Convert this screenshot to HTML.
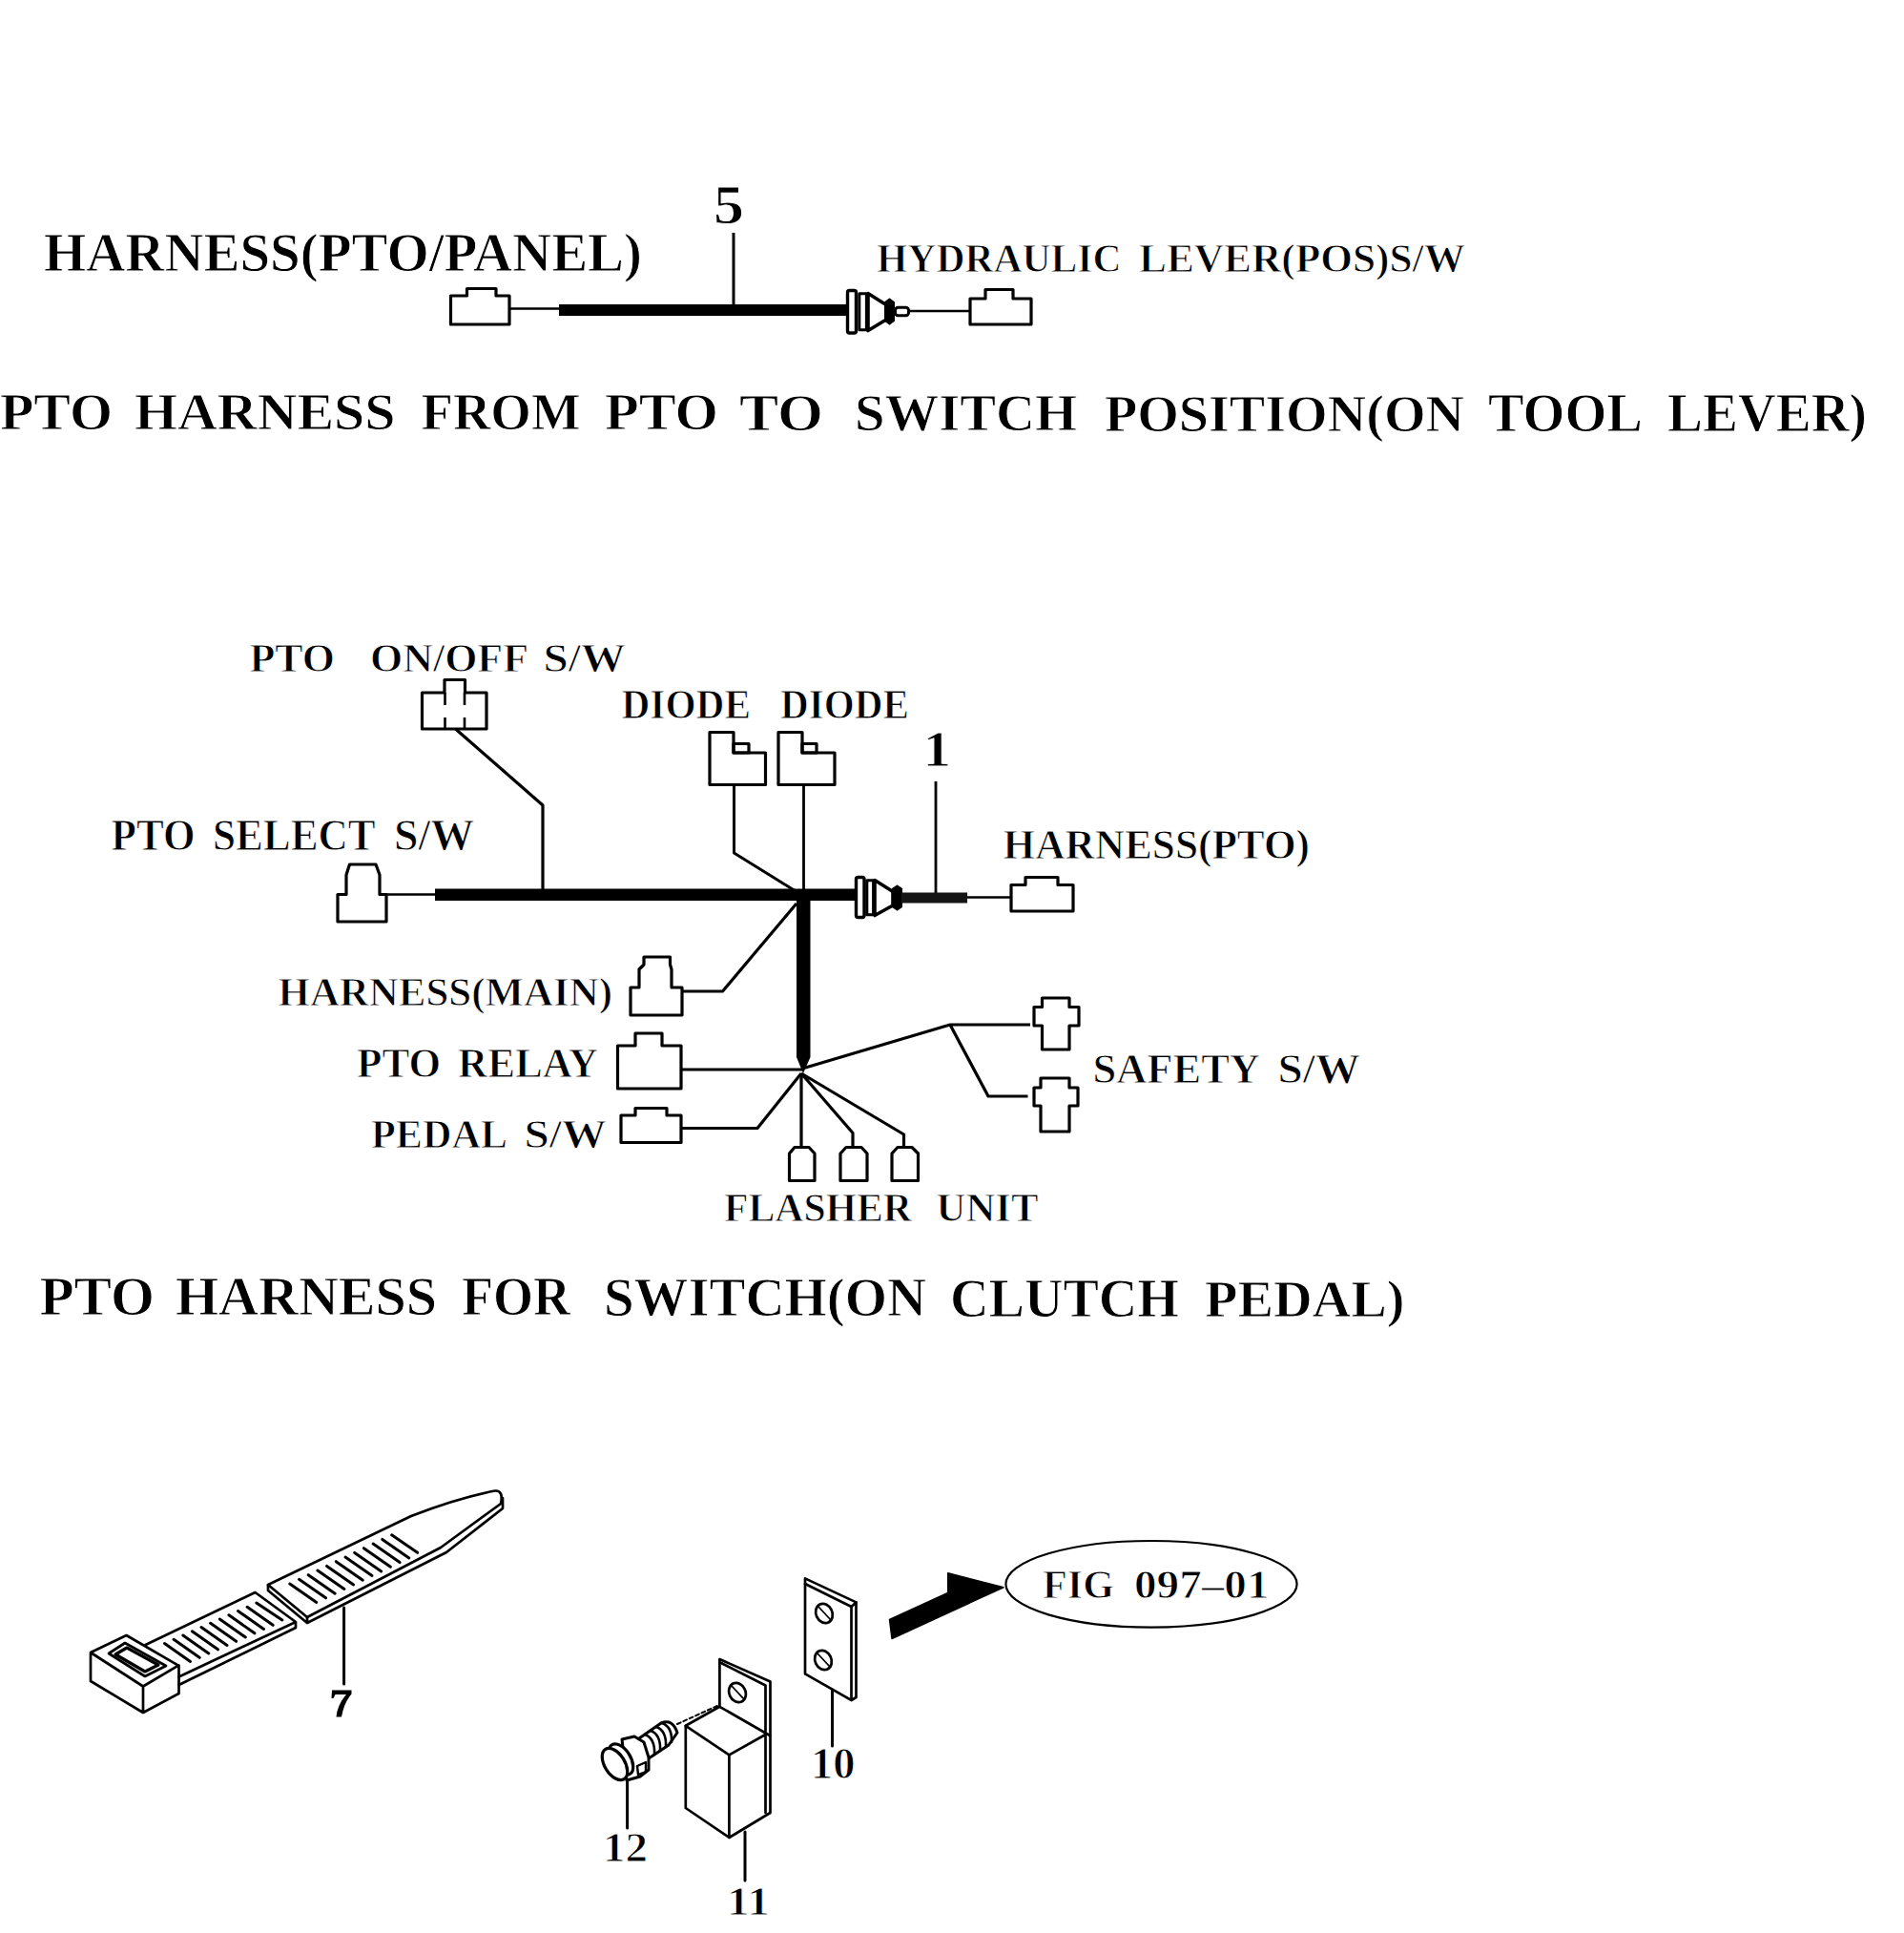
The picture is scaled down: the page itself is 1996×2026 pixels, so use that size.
<!DOCTYPE html>
<html><head><meta charset="utf-8"><title>PTO Harness</title>
<style>html,body{margin:0;padding:0;background:#fff;overflow:hidden}svg{display:block}</style></head>
<body><svg width="1996" height="2026" viewBox="0 0 1996 2026">
<rect width="1996" height="2026" fill="#fff"/>
<g fill="none" stroke="#000" stroke-width="3.2" stroke-linejoin="round" stroke-linecap="butt">
<!-- ===== Section 1 ===== -->
<path d="M472.5,310 H489.5 V302.5 H520 V310 H534 V340 H472.5 Z"/>
<path d="M534,323.5 H586" stroke-width="2.6"/>
<rect x="586" y="319" width="302" height="12" fill="#000" stroke="none"/>
<path d="M769,244 V320" stroke-width="3"/>
<rect x="888.5" y="304.5" width="9" height="44.5" rx="2" fill="#fff" stroke-width="3.4"/>
<rect x="900.8" y="307.8" width="7.6" height="38" fill="#fff" stroke-width="3"/>
<path d="M910,307.5 L929,319.5 V335 L910,346.5 Z" fill="#fff" stroke-width="3.6"/>
<path d="M928,317 L932.5,313.5 L937,317 V336 L932.5,339.5 L928,336 Z" fill="#000" stroke-width="2"/>
<rect x="938.5" y="322.2" width="14" height="8.6" rx="3" fill="#fff" stroke-width="3"/>
<path d="M953,326 H1017" stroke-width="2.6"/>
<path d="M1017,313 H1033 V303.5 H1062 V313 H1081 V340 H1017 Z"/>
<!-- ===== Section 2 ===== -->
<path d="M442.5,726 H466 V712.5 H487.5 V726 H510 V764 H442.5 Z"/>
<path d="M466.5,726 V739 M487,726 V739 M466.5,752 V764 M487,752 V764" stroke-width="2.6"/>
<path d="M477.5,764 L569,844 V932"/>
<path d="M744,767.5 H769 V789 H802.5 V822.5 H744 Z"/>
<rect x="769" y="779.5" width="16" height="9.5"/>
<path d="M816,767.5 H841 V789 H875 V822.5 H816 Z"/>
<rect x="841" y="779.5" width="15" height="9.5"/>
<path d="M769.5,822.5 V894 L834,934" stroke-width="3"/>
<path d="M842.5,822.5 V932" stroke-width="2.8"/>
<path d="M981,819 V936" stroke-width="2.8"/>
<path d="M354,966 V937.5 H363 V917 L366.5,906 H394 L398,917 V937.5 H405 V966 Z"/>
<path d="M405,937.5 H456" stroke-width="2.6"/>
<rect x="456" y="931.5" width="441" height="12.5" fill="#000" stroke="none"/>
<rect x="897.5" y="919.5" width="8.5" height="42" rx="2" fill="#fff" stroke-width="3.4"/>
<rect x="908.8" y="922.8" width="6.8" height="36" fill="#fff" stroke-width="3"/>
<path d="M917,922.5 L936,934.5 V949 L917,959.5 Z" fill="#fff" stroke-width="3.6"/>
<path d="M936,931.5 L940.5,928.5 L945,931.5 V950.5 L940.5,953.5 L936,950.5 Z" fill="#000" stroke-width="2"/>
<rect x="945" y="935.5" width="69" height="11" fill="#151515" stroke="none"/>
<path d="M1014,940.5 H1060" stroke-width="2.6"/>
<path d="M1060,927.5 H1075 V919.5 H1109 V927.5 H1125 V955 H1060 Z"/>
<path d="M835,932 H849.5 V1108 L842,1125 L835,1108 Z" fill="#000" stroke="none"/>
<path d="M661,1064 V1035 H670 V1016 L675,1011 V1003 H702.5 V1011 L704,1016 V1035 H715 V1064 Z"/>
<path d="M715,1039 H757.5 L835,947"/>
<path d="M647.5,1096 H666 V1083 H694 V1096 H714 V1141 H647.5 Z"/>
<path d="M714,1121 H841" stroke-width="3"/>
<path d="M651,1169 H666 V1161.5 H699 V1169 H714 V1197.5 H651 Z"/>
<path d="M714,1182.5 H794 L840,1125"/>
<path d="M841,1120 L996,1074 H1080 M996,1074 L1036,1149 H1077.5"/>
<path d="M1092.5,1046 H1121 V1055.5 H1131 V1075 H1121 V1100 H1092.5 V1075 H1084 V1055.5 H1092.5 Z"/>
<path d="M1091,1130 H1121 V1140 H1130 V1159 H1121 V1186 H1091 V1159 H1084 V1140 H1091 Z"/>
<path d="M840,1125 V1202 M840,1125 L894,1187.5 V1202 M840,1125 L947.5,1189 V1202"/>
<path d="M827.5,1209 L833,1202.5 H848 L854,1209 V1237.5 H827.5 Z"/>
<path d="M881,1209 L887,1202.5 H903 L909,1209 V1237.5 H881 Z"/>
<path d="M935,1209 L941,1202.5 H956 L962.5,1209 V1237.5 H935 Z"/>
</g>

<g fill="none" stroke="#000" stroke-width="2.7" stroke-linejoin="round" stroke-linecap="round">
<!-- cable tie (7) -->
<path d="M95,1732 L132.5,1714 L187,1745.6 L150,1767.5 Z M95,1732 V1762 L150,1795 L187.5,1775 V1745.6 M150,1767.5 V1795"/>
<path d="M114,1733 L131,1722 L174,1746 L152,1757 Z"/>
<path d="M121,1734 L133,1727 L166,1745 L152,1752 Z" stroke-width="3.2"/>
<path d="M152.5,1724 L267.5,1669 L310,1700 L187.5,1757.5 M310,1700 V1706 L187.5,1766"/>
<path d="M281,1661 L431,1589 Q480,1570 519,1562.5 Q528,1562 525,1576 L462,1622 L322,1695 Z"/>
<path d="M281,1661 V1667 L322,1701 V1695 M322,1701 L468,1627 L527,1581 V1570" />
<g stroke-width="3" id="teeth1">
<path d="M172.5,1722.5 l27,19 M182.1,1718.3 l27,19 M191.8,1714 l27,19 M201.4,1709.8 l27,19 M211,1705.5 l27,19 M220.6,1701.3 l27,19 M230.3,1697 l27,19 M239.9,1692.8 l27,19 M249.5,1688.5 l27,19 M259.1,1684.3 l27,19 M268.8,1680 l27,18"/>
</g>
<g stroke-width="3">
<path d="M303.8,1660 l28,19.5 M313.5,1655.3 l28,19.5 M323.2,1650.7 l28,19.5 M332.9,1646 l28,19.5 M342.6,1641.4 l28,19.5 M352.3,1636.7 l28,19.5 M362,1632 l28,19.5 M371.7,1627.4 l28,19.5 M381.4,1622.7 l28,19.5 M391.1,1618.1 l28,19.5 M400.8,1613.4 l28,19.5 M410.6,1608.8 l27,18.5"/>
</g>
<path d="M360.6,1685 V1765" stroke-width="3"/>
<path d="M348,1771.5 H368.5 V1775.5 Q360.5,1785 358,1799.5 H352.5 Q353.5,1787 363,1776 H351.5 L349.5,1780 H347.5 Z" fill="#000" stroke="none"/>
<!-- relay (11) bracket + box -->
<path d="M754.4,1739 L807.5,1762.5 V1900 L764.4,1926 L718.8,1895 V1808.8 L754.4,1788.8 Z" fill="#fff"/>
<path d="M756,1743 L802.5,1766.5 V1900 M754.4,1788.8 L807,1819 M718.8,1808.8 L764.4,1839.4 L802.5,1818 M764.4,1839.4 V1926"/>
<ellipse cx="773" cy="1774" rx="8.5" ry="10.5" transform="rotate(-25 773 1774)"/>
<path d="M767,1767 L780,1781" stroke-width="1.8"/>
<path d="M781,1920 V1971" stroke-width="3"/>
<!-- bolt (12) -->
<path d="M710,1807 L754,1787" stroke-dasharray="4,3" stroke-width="2"/>
<path d="M670,1822 L693,1806 Q705,1801 710,1816 L701,1829 L680,1843 Z" fill="#fff" stroke-width="3"/>
<path d="M676,1818 Q687,1822 686,1839 M682,1814 Q693,1818 692,1835 M688,1810 Q699,1814 698,1831 M694,1806 Q705,1810 704,1826" stroke-width="2.6"/>
<path d="M652,1823 L665,1820 L675,1826 L680,1842 V1855 L671,1862 L657,1866 Z" fill="#fff" stroke-width="3"/>
<path d="M668,1851 L677,1847 V1857 L669,1860 Z" stroke-width="2.4"/>
<ellipse cx="651" cy="1844" rx="10" ry="18" transform="rotate(-32 651 1844)" fill="#fff" stroke-width="3.2"/>
<ellipse cx="644.5" cy="1849" rx="10.5" ry="18.5" transform="rotate(-32 644.5 1849)" fill="#fff" stroke-width="3.2"/>
<path d="M657.6,1866 V1916" stroke-width="3"/>
<!-- plate (10) -->
<path d="M844,1654.4 L897.5,1679.4 V1779 L892.5,1782 L844,1754.4 Z" fill="#fff"/>
<path d="M844,1660 L892.5,1684 V1782 M892.5,1684 L897.5,1679.4"/>
<ellipse cx="864" cy="1691" rx="8.5" ry="10.5" transform="rotate(-25 864 1691)"/>
<path d="M858,1684 L871,1698" stroke-width="1.8"/>
<ellipse cx="863" cy="1740" rx="8.5" ry="10.5" transform="rotate(-25 863 1740)"/>
<path d="M857,1733 L870,1747" stroke-width="1.8"/>
<path d="M872.5,1771 V1830" stroke-width="3"/>
<!-- arrow -->
<path d="M932.5,1697.5 L993.75,1669.4 V1648.75 L1052,1663.75 L935,1717.5 Z" fill="#000" stroke-width="1.5"/>
<ellipse cx="1207" cy="1660.3" rx="152.6" ry="45.3" stroke-width="2.2"/>
</g>

<g fill="#000" stroke="#fff" stroke-width="0.9">
<text x="46.0" y="284" font-family="&quot;Liberation Serif&quot;, serif" font-weight="bold" font-size="56.49" textLength="627.0" lengthAdjust="spacingAndGlyphs" xml:space="preserve">HARNESS(PTO/PANEL)</text>
<text x="748.0" y="234" font-family="&quot;Liberation Serif&quot;, serif" font-weight="bold" font-size="58.02" textLength="32.0" lengthAdjust="spacingAndGlyphs" xml:space="preserve">5</text>
<text x="919.0" y="285" font-family="&quot;Liberation Serif&quot;, serif" font-weight="bold" font-size="42.75" textLength="256.5" lengthAdjust="spacingAndGlyphs" xml:space="preserve">HYDRAULIC</text>
<text x="1194.0" y="285" font-family="&quot;Liberation Serif&quot;, serif" font-weight="bold" font-size="42.75" textLength="342.0" lengthAdjust="spacingAndGlyphs" xml:space="preserve">LEVER(POS)S/W</text>
<text x="0.0" y="450" font-family="&quot;Liberation Serif&quot;, serif" font-weight="bold" font-size="54.96" textLength="118.0" lengthAdjust="spacingAndGlyphs" xml:space="preserve">PTO</text>
<text x="141.0" y="450" font-family="&quot;Liberation Serif&quot;, serif" font-weight="bold" font-size="54.96" textLength="273.5" lengthAdjust="spacingAndGlyphs" xml:space="preserve">HARNESS</text>
<text x="441.5" y="450" font-family="&quot;Liberation Serif&quot;, serif" font-weight="bold" font-size="54.96" textLength="167.0" lengthAdjust="spacingAndGlyphs" xml:space="preserve">FROM</text>
<text x="634.0" y="450" font-family="&quot;Liberation Serif&quot;, serif" font-weight="bold" font-size="54.96" textLength="119.0" lengthAdjust="spacingAndGlyphs" xml:space="preserve">PTO</text>
<text x="775.0" y="450.5" font-family="&quot;Liberation Serif&quot;, serif" font-weight="bold" font-size="54.96" textLength="88.0" lengthAdjust="spacingAndGlyphs" xml:space="preserve">TO</text>
<text x="896.0" y="451" font-family="&quot;Liberation Serif&quot;, serif" font-weight="bold" font-size="54.96" textLength="233.0" lengthAdjust="spacingAndGlyphs" xml:space="preserve">SWITCH</text>
<text x="1158.0" y="452" font-family="&quot;Liberation Serif&quot;, serif" font-weight="bold" font-size="54.96" textLength="377.0" lengthAdjust="spacingAndGlyphs" xml:space="preserve">POSITION(ON</text>
<text x="1560.0" y="452" font-family="&quot;Liberation Serif&quot;, serif" font-weight="bold" font-size="56.49" textLength="162.0" lengthAdjust="spacingAndGlyphs" xml:space="preserve">TOOL</text>
<text x="1748.0" y="452" font-family="&quot;Liberation Serif&quot;, serif" font-weight="bold" font-size="56.49" textLength="209.0" lengthAdjust="spacingAndGlyphs" xml:space="preserve">LEVER)</text>
<text x="261.5" y="704" font-family="&quot;Liberation Serif&quot;, serif" font-weight="bold" font-size="42.75" textLength="89.5" lengthAdjust="spacingAndGlyphs" xml:space="preserve">PTO</text>
<text x="388.0" y="704" font-family="&quot;Liberation Serif&quot;, serif" font-weight="bold" font-size="42.75" textLength="166.0" lengthAdjust="spacingAndGlyphs" xml:space="preserve">ON/OFF</text>
<text x="569.5" y="704" font-family="&quot;Liberation Serif&quot;, serif" font-weight="bold" font-size="42.75" textLength="86.5" lengthAdjust="spacingAndGlyphs" xml:space="preserve">S/W</text>
<text x="651.5" y="752.5" font-family="&quot;Liberation Serif&quot;, serif" font-weight="bold" font-size="43.51" textLength="135.5" lengthAdjust="spacingAndGlyphs" xml:space="preserve">DIODE</text>
<text x="818.0" y="752.5" font-family="&quot;Liberation Serif&quot;, serif" font-weight="bold" font-size="43.51" textLength="135.0" lengthAdjust="spacingAndGlyphs" xml:space="preserve">DIODE</text>
<text x="967.5" y="802.5" font-family="&quot;Liberation Serif&quot;, serif" font-weight="bold" font-size="53.44" textLength="29.5" lengthAdjust="spacingAndGlyphs" xml:space="preserve">1</text>
<text x="116.5" y="891" font-family="&quot;Liberation Serif&quot;, serif" font-weight="bold" font-size="45.80" textLength="88.0" lengthAdjust="spacingAndGlyphs" xml:space="preserve">PTO</text>
<text x="223.0" y="891" font-family="&quot;Liberation Serif&quot;, serif" font-weight="bold" font-size="45.80" textLength="170.5" lengthAdjust="spacingAndGlyphs" xml:space="preserve">SELECT</text>
<text x="413.0" y="891" font-family="&quot;Liberation Serif&quot;, serif" font-weight="bold" font-size="45.80" textLength="84.0" lengthAdjust="spacingAndGlyphs" xml:space="preserve">S/W</text>
<text x="1051.5" y="900" font-family="&quot;Liberation Serif&quot;, serif" font-weight="bold" font-size="44.27" textLength="321.5" lengthAdjust="spacingAndGlyphs" xml:space="preserve">HARNESS(PTO)</text>
<text x="291.5" y="1054" font-family="&quot;Liberation Serif&quot;, serif" font-weight="bold" font-size="42.75" textLength="350.5" lengthAdjust="spacingAndGlyphs" xml:space="preserve">HARNESS(MAIN)</text>
<text x="374.0" y="1129" font-family="&quot;Liberation Serif&quot;, serif" font-weight="bold" font-size="44.27" textLength="88.0" lengthAdjust="spacingAndGlyphs" xml:space="preserve">PTO</text>
<text x="480.0" y="1129" font-family="&quot;Liberation Serif&quot;, serif" font-weight="bold" font-size="44.27" textLength="147.0" lengthAdjust="spacingAndGlyphs" xml:space="preserve">RELAY</text>
<text x="389.0" y="1202.5" font-family="&quot;Liberation Serif&quot;, serif" font-weight="bold" font-size="41.98" textLength="143.0" lengthAdjust="spacingAndGlyphs" xml:space="preserve">PEDAL</text>
<text x="549.5" y="1202.5" font-family="&quot;Liberation Serif&quot;, serif" font-weight="bold" font-size="41.98" textLength="86.5" lengthAdjust="spacingAndGlyphs" xml:space="preserve">S/W</text>
<text x="1145.5" y="1135" font-family="&quot;Liberation Serif&quot;, serif" font-weight="bold" font-size="44.27" textLength="175.5" lengthAdjust="spacingAndGlyphs" xml:space="preserve">SAFETY</text>
<text x="1339.5" y="1135" font-family="&quot;Liberation Serif&quot;, serif" font-weight="bold" font-size="44.27" textLength="86.5" lengthAdjust="spacingAndGlyphs" xml:space="preserve">S/W</text>
<text x="759.0" y="1280" font-family="&quot;Liberation Serif&quot;, serif" font-weight="bold" font-size="41.98" textLength="197.0" lengthAdjust="spacingAndGlyphs" xml:space="preserve">FLASHER</text>
<text x="981.5" y="1280" font-family="&quot;Liberation Serif&quot;, serif" font-weight="bold" font-size="41.98" textLength="107.0" lengthAdjust="spacingAndGlyphs" xml:space="preserve">UNIT</text>
<text x="41.5" y="1378" font-family="&quot;Liberation Serif&quot;, serif" font-weight="bold" font-size="56.49" textLength="120.5" lengthAdjust="spacingAndGlyphs" xml:space="preserve">PTO</text>
<text x="184.0" y="1378" font-family="&quot;Liberation Serif&quot;, serif" font-weight="bold" font-size="56.49" textLength="274.0" lengthAdjust="spacingAndGlyphs" xml:space="preserve">HARNESS</text>
<text x="484.0" y="1378" font-family="&quot;Liberation Serif&quot;, serif" font-weight="bold" font-size="56.49" textLength="114.0" lengthAdjust="spacingAndGlyphs" xml:space="preserve">FOR</text>
<text x="633.0" y="1379" font-family="&quot;Liberation Serif&quot;, serif" font-weight="bold" font-size="56.49" textLength="338.0" lengthAdjust="spacingAndGlyphs" xml:space="preserve">SWITCH(ON</text>
<text x="996.0" y="1380" font-family="&quot;Liberation Serif&quot;, serif" font-weight="bold" font-size="56.49" textLength="240.0" lengthAdjust="spacingAndGlyphs" xml:space="preserve">CLUTCH</text>
<text x="1263.0" y="1380" font-family="&quot;Liberation Serif&quot;, serif" font-weight="bold" font-size="54.96" textLength="209.5" lengthAdjust="spacingAndGlyphs" xml:space="preserve">PEDAL)</text>
<text x="850.0" y="1864" font-family="&quot;Liberation Serif&quot;, serif" font-weight="bold" font-size="45.80" textLength="46.5" lengthAdjust="spacingAndGlyphs" xml:space="preserve">10</text>
<text x="762.0" y="2007" font-family="&quot;Liberation Serif&quot;, serif" font-weight="bold" font-size="42.75" textLength="45.0" lengthAdjust="spacingAndGlyphs" xml:space="preserve">11</text>
<text x="632.0" y="1951" font-family="&quot;Liberation Serif&quot;, serif" font-weight="bold" font-size="43.51" textLength="47.0" lengthAdjust="spacingAndGlyphs" xml:space="preserve">12</text>
<text x="1093.0" y="1674.6" font-family="&quot;Liberation Serif&quot;, serif" font-weight="bold" font-size="42.14" textLength="75.0" lengthAdjust="spacingAndGlyphs" xml:space="preserve">FIG</text>
<text x="1189.0" y="1674.6" font-family="&quot;Liberation Serif&quot;, serif" font-weight="bold" font-size="42.14" textLength="141.5" lengthAdjust="spacingAndGlyphs" xml:space="preserve">097–01</text>
</g>
</svg></body></html>
